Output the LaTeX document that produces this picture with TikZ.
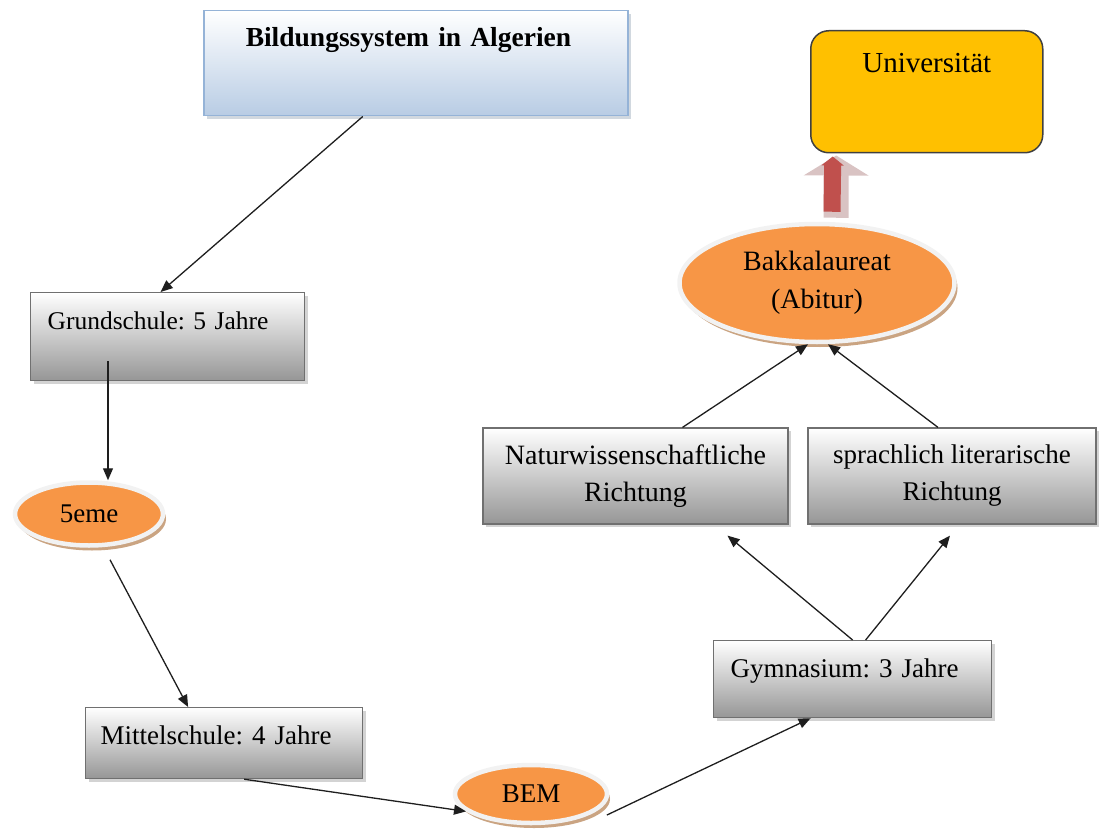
\documentclass[tikz,border=0pt]{standalone}
\usepackage{fontspec}
\setmainfont{Liberation Serif}
\frenchspacing
\usetikzlibrary{arrows.meta,shapes.geometric,shadows}
\definecolor{orangeF}{HTML}{F79646}
\definecolor{ringwhite}{HTML}{F2F2F2}
\definecolor{ovalshadow}{HTML}{C49A74}
\definecolor{boxgrey}{HTML}{707070}
\definecolor{boxbottom}{HTML}{969696}
\definecolor{titlebottom}{HTML}{B8CCE4}
\definecolor{titleborder}{HTML}{95B3D7}
\definecolor{unifill}{HTML}{FFC000}
\definecolor{uniborder}{HTML}{404040}
\definecolor{arrowred}{HTML}{C0504D}
\definecolor{arrowhalo}{HTML}{D9C3C3}
\definecolor{lineblack}{HTML}{1E1E1E}
\begin{document}
\begin{tikzpicture}[x=1pt,y=-1pt,
  conn/.style={line width=1.3pt, draw=lineblack, -{Triangle[length=12pt,width=10pt]}},
  greybox/.style={rectangle, anchor=north west, inner ysep=0pt, draw=boxgrey, line width=1.2pt,
    top color=white, bottom color=boxbottom,
    drop shadow={shadow xshift=3pt, shadow yshift=-3pt, opacity=0.35},
    font=\fontsize{27}{37}\selectfont},
  greyc/.style={greybox, anchor=center, align=center, inner sep=0pt},
  oval/.style={ellipse, inner sep=0pt, fill=orangeF, draw=ringwhite, line width=4.5pt,
    drop shadow={shadow xshift=3pt, shadow yshift=-5pt, fill=ovalshadow, opacity=0.9},
    font=\fontsize{27}{37}\selectfont}
]
\useasboundingbox (0,0) rectangle (1099,834);

% nodes
\node[rectangle, anchor=north west, inner xsep=42pt, inner ysep=0pt, text width=340pt,
  align=left, text height=36pt, text depth=69pt, draw=titleborder, line width=1.5pt,
  top color=white, bottom color=titlebottom,
  drop shadow={shadow xshift=3pt, shadow yshift=-3pt, opacity=0.3, fill=titleborder!70!black},
  font=\fontsize{27.5}{33}\selectfont\bfseries] (title) at (203,10) {Bildungssystem in Algerien};

\node[rectangle, rounded corners=18pt, anchor=north west, inner xsep=6pt, inner ysep=0pt,
  text width=220pt, align=center, text height=42pt, text depth=80pt,
  fill=unifill, draw=uniborder, line width=1.5pt,
  font=\fontsize{29}{35}\selectfont] (univ) at (810,30) {Universität};

\node[greybox, inner xsep=17pt, text width=240pt, align=left, text height=37pt, text depth=51pt,
  font=\fontsize{25.5}{37}\selectfont]
  (grund) at (30,292) {Grundschule: 5 Jahre};

\node[oval, minimum width=148pt, minimum height=63pt] (funf) at (89,514) {5eme\hspace{22pt}};

\node[greybox, inner xsep=15pt, text width=247pt, align=left, text height=37pt, text depth=34pt]
  (mittel) at (85,707) {Mittelschule: 4 Jahre};

\node[oval, minimum width=152pt, minimum height=58pt] (bem) at (531,794) {BEM\hspace{22pt}};

\node[greybox, inner xsep=17pt, text width=244pt, align=left, text height=37pt, text depth=40pt]
  (gym) at (713,640) {Gymnasium: 3 Jahre};

\node[greyc, minimum width=305pt, minimum height=96pt, font=\fontsize{28}{37}\selectfont]
  (natur) at (635.5,476) {Naturwissenschaftliche\\Richtung};

\node[greyc, minimum width=288pt, minimum height=96pt] (sprach) at (952,476)
  {sprachlich literarische\\Richtung};

\node[oval, minimum width=275pt, minimum height=118pt, align=center,
  font=\fontsize{28}{38}\selectfont] (bakk) at (817,283)
  {Bakkalaureat\\(Abitur)};

% block arrow Bakkalaureat -> Universitaet
\draw[line width=25pt, draw=arrowhalo, -{Triangle[length=20pt,width=64pt]}]
  ([xshift=19pt,yshift=4pt]bakk.north) -- ([xshift=-90.5pt,yshift=-2pt]univ.south);
\draw[line width=17pt, draw=arrowred, -{Triangle[length=9pt,width=22pt]}]
  ([xshift=15pt,yshift=10pt]bakk.north) -- ([xshift=-94pt,yshift=-3pt]univ.south);

% connectors
\draw[conn] ([xshift=-53pt]title.south) -- ([xshift=-7pt]grund.north);
\draw[conn] ([xshift=78pt,yshift=20pt]grund.south west) -- ([xshift=19pt]funf.north);
\draw[conn] ([xshift=21pt,yshift=-12pt]funf.south) -- ([xshift=-36pt]mittel.north);
\draw[conn] ([xshift=20pt]mittel.south) -- (bem.195);
\draw[conn] ([xshift=18pt]bem.-20) -- ([xshift=-42pt]gym.south);
\draw[conn] (gym.north) -- ([xshift=92pt,yshift=-11pt]natur.south);
\draw[conn] ([xshift=13pt]gym.north) -- ([xshift=-2pt,yshift=-11pt]sprach.south);
\draw[conn] ([xshift=47pt]natur.north) -- ([xshift=-9pt]bakk.south);
\draw[conn] ([xshift=-14pt]sprach.north) -- ([xshift=11pt]bakk.south);
\end{tikzpicture}
\end{document}
